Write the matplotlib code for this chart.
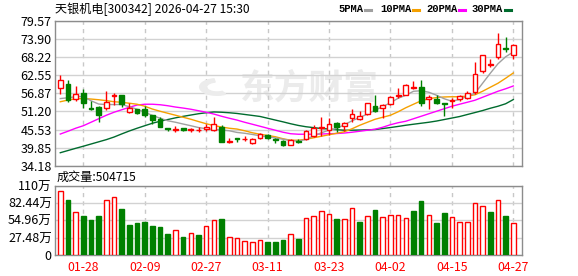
import numpy as np
import matplotlib
matplotlib.use('Agg')
import matplotlib.pyplot as plt
from matplotlib.lines import Line2D
from matplotlib.patches import Wedge

plt.rcParams['font.family'] = ['Noto Sans CJK SC', 'DejaVu Sans']

# header
stock_name = '天银机电'
stock_code = '300342'
stamp = '2026-04-27 15:30'

# daily candles (60 sessions)
opens = [58.4, 59.9, 55.25, 57.1, 52.3, 52.6, 52.4, 56.0, 56.3, 51.0,
         51.9, 51.9, 50.0, 48.7, 45.9, 45.5, 45.9, 45.4, 45.4, 45.6,
         45.4, 46.3, 41.5, 42.9, 42.5, 41.4, 42.9, 43.8, 42.7, 41.9,
         40.8, 42.0, 42.4, 43.6, 46.0, 45.3, 47.6, 46.5, 49.0, 48.9,
         50.5, 52.8, 52.3, 53.4, 56.1, 56.5, 58.6, 58.9, 55.0, 55.0,
         53.8, 54.5, 55.0, 55.4, 57.3, 63.8, 65.8, 68.3, 71.0, 69.0]
closes = [61.2, 54.9, 56.6, 53.7, 52.0, 50.0, 54.2, 56.5, 53.4, 52.2,
          50.7, 50.2, 48.4, 46.3, 45.6, 45.7, 45.3, 45.6, 45.5, 46.3,
          47.3, 41.6, 41.8, 42.6, 42.6, 42.7, 44.0, 42.9, 42.3, 40.6,
          42.2, 41.7, 45.1, 46.0, 46.2, 47.2, 46.3, 47.5, 50.5, 49.9,
          53.7, 51.2, 53.2, 55.8, 56.4, 59.6, 58.8, 54.0, 55.8, 53.7,
          53.5, 54.7, 56.0, 57.0, 63.1, 68.8, 66.0, 72.2, 70.8, 72.0]
highs = [62.55, 61.0, 59.1, 58.1, 54.5, 52.8, 57.5, 57.0, 56.3, 53.7,
         52.1, 52.8, 50.2, 49.5, 46.1, 46.7, 46.0, 46.1, 46.2, 47.4,
         49.5, 46.8, 42.9, 43.0, 43.6, 42.8, 44.3, 44.2, 42.9, 42.2,
         42.4, 42.4, 45.4, 47.0, 49.4, 49.2, 47.9, 47.9, 52.1, 51.3,
         53.9, 56.3, 53.4, 56.0, 58.4, 59.9, 60.7, 61.0, 56.3, 56.3,
         54.0, 55.4, 56.3, 57.6, 66.7, 69.0, 67.8, 75.9, 74.6, 72.2]
lows = [56.6, 54.2, 54.5, 52.4, 51.6, 47.9, 51.6, 53.1, 52.6, 50.7,
        50.5, 49.3, 47.4, 46.2, 45.2, 44.8, 45.1, 44.9, 44.9, 45.0,
        45.0, 41.5, 41.3, 41.6, 42.0, 41.0, 42.6, 42.5, 41.2, 40.3,
        40.6, 41.4, 42.2, 43.1, 43.5, 43.7, 44.8, 45.0, 47.9, 48.5,
        50.2, 51.0, 49.2, 53.1, 55.4, 56.3, 58.2, 52.9, 52.1, 53.4,
        49.8, 52.3, 54.6, 55.0, 56.8, 63.4, 65.2, 67.5, 69.9, 67.8]

# volume in 万
volumes = [101.5, 87.8, 68.2, 61.9, 55.5, 61.9, 87.3, 91.5, 73.0, 47.6,
           50.8, 52.4, 46.0, 44.4, 33.3, 39.7, 28.6, 34.9, 31.7, 46.0,
           55.5, 57.1, 28.6, 27.0, 22.2, 20.6, 23.8, 20.6, 20.6, 23.8,
           33.3, 25.4, 58.2, 61.9, 69.8, 65.0, 57.1, 56.6, 74.6, 52.4,
           61.9, 71.4, 59.8, 63.5, 63.5, 58.2, 69.8, 85.7, 63.5, 50.8,
           66.6, 59.8, 52.4, 52.4, 82.5, 77.7, 68.2, 87.3, 61.9, 50.4715]

# moving averages as drawn
ma5 = [55.24, 55.49, 55.81, 55.90, 54.55, 53.52, 53.36, 53.36, 53.36, 52.67,
       51.89, 50.95, 49.95, 49.07, 48.28, 47.81, 47.25, 46.72, 46.15, 45.77,
       45.52, 45.37, 45.15, 44.62, 44.36, 43.99, 43.58, 43.27, 42.89, 42.48,
       42.08, 41.86, 42.42, 43.49, 44.52, 45.31, 45.87, 47.03, 48.28, 49.32,
       50.38, 51.57, 52.73, 53.93, 55.34, 56.28, 57.53, 57.69, 57.22, 56.28,
       55.18, 54.40, 54.96, 55.96, 56.90, 60.04, 63.17, 66.15, 68.35, 69.85]
ma10 = [54.24, 54.77, 55.15, 55.24, 55.09, 54.87, 54.59, 54.24, 54.08, 53.77,
        53.46, 52.83, 51.95, 51.26, 50.63, 50.01, 49.38, 48.75, 48.03, 47.34,
        46.78, 46.31, 45.93, 45.68, 45.15, 44.52, 44.05, 43.67, 43.27, 42.64,
        42.17, 42.17, 42.48, 42.95, 43.42, 43.89, 44.36, 44.83, 45.77, 46.87,
        47.81, 48.75, 49.38, 50.01, 51.10, 52.36, 53.46, 54.55, 55.18, 55.56,
        55.74, 55.81, 55.81, 56.03, 56.43, 57.53, 58.79, 60.04, 61.61, 63.27]
ma20 = [44.11, 44.99, 45.93, 46.72, 47.81, 48.91, 50.01, 50.95, 51.73, 52.51,
        53.21, 53.46, 53.46, 53.30, 52.99, 52.58, 52.26, 51.89, 51.42, 50.95,
        50.38, 49.69, 49.07, 48.50, 47.81, 47.19, 46.56, 45.93, 45.31, 44.68,
        44.21, 44.05, 44.05, 44.05, 44.11, 44.21, 44.27, 44.43, 44.68, 44.99,
        45.31, 45.62, 46.25, 47.03, 47.66, 48.13, 48.91, 49.69, 50.48, 51.26,
        52.05, 52.83, 53.46, 54.08, 54.71, 55.65, 56.59, 57.53, 58.31, 59.19]
ma30 = [38.25, 38.94, 39.63, 40.29, 40.98, 41.67, 42.36, 43.17, 44.15, 45.08,
        45.93, 46.72, 47.50, 48.13, 48.66, 49.19, 49.66, 50.07, 50.48, 50.79,
        51.04, 50.95, 50.79, 50.57, 50.26, 49.95, 49.63, 49.07, 48.50, 47.94,
        47.34, 46.81, 46.40, 46.12, 45.84, 45.68, 45.46, 45.31, 45.31, 45.37,
        45.43, 45.52, 45.84, 46.15, 46.50, 46.87, 47.19, 47.50, 47.81, 48.19,
        48.66, 49.13, 49.60, 50.23, 50.85, 51.48, 52.20, 52.83, 53.61, 54.93]

date_labels = ['01-28', '02-09', '02-27', '03-11', '03-23', '04-02', '04-15', '04-27']
date_pos = [3, 11, 19, 27, 35, 43, 51, 59]
price_ticks = [34.18, 39.85, 45.53, 51.20, 56.87, 62.55, 68.22, 73.90, 79.57]
vol_ticks = [0, 27.48, 54.96, 82.44, 109.92]
vol_tick_labels = ['0', '27.48万', '54.96万', '82.44万', '110万']

RED = '#ff0000'
GREEN = '#008000'
ma_colors = ['#a0a0a0', '#f5a000', '#ff00ff', '#006b2e']
W, H = 578, 276


def fx(px):
    return px / W


def fy(py):
    return 1 - py / H


opens = np.array(opens)
closes = np.array(closes)
highs = np.array(highs)
lows = np.array(lows)
volumes = np.array(volumes)
x = np.arange(len(closes))

fig = plt.figure(figsize=(W / 100, H / 100), dpi=100)
ax = fig.add_axes([fx(55.3), fy(165.7), fx(522.3 - 55.3), (165.7 - 21) / H])
axv = fig.add_axes([fx(55.3), fy(255), fx(522.3 - 55.3), (255 - 185.7) / H])

# watermark (logo swirl + name)
fig.add_artist(Wedge((fx(217), fy(87)), 0.03, 100, 300, width=0.012,
                     color='#ececec', transform=fig.transFigure, zorder=0.5))
ax.text(0.545, 0.54, '东方财富', transform=ax.transAxes, ha='center', va='center',
        fontsize=25, fontweight='bold', color='#ebebeb', zorder=0.5)

# moving averages
for ma, c in zip([ma30, ma20, ma10, ma5], ma_colors[::-1]):
    ax.plot(x, ma, color=c, lw=1.0, zorder=2)

# candles
up = closes >= opens
cc = np.where(up, RED, GREEN)
face = np.where(up, 'white', GREEN)
ax.vlines(x, lows, highs, colors=cc, lw=1.0, zorder=3)
body_lo = np.minimum(opens, closes)
body_h = np.maximum(np.abs(closes - opens), 0.12)
ax.bar(x, body_h, bottom=body_lo, width=0.62, color=face, edgecolor=cc, lw=1.0, zorder=4)

# volume bars, colour by change vs previous close
prev = np.concatenate([[opens[0]], closes[:-1]])
vup = closes >= prev
vc = np.where(vup, RED, GREEN)
vface = np.where(vup, 'white', GREEN)
axv.bar(x, volumes, width=0.6, color=vface, edgecolor=vc, lw=1.0, zorder=3)

for a in (ax, axv):
    a.set_xlim(-0.65, 60.17)
    a.set_xticks(date_pos)
    a.grid(axis='x', color='#c8c8c8', lw=1.0, ls=(0, (3, 3)))
    a.grid(axis='y', color='#d2d2d2', lw=1.0, ls='-')
    a.set_axisbelow(True)
    for s in a.spines.values():
        s.set_color('#8c8c8c')
        s.set_linewidth(1.0)
    a.tick_params(length=0, labelsize=9, pad=2.5)

ax.set_ylim(34.18, 79.57)
ax.set_yticks(price_ticks)
ax.set_yticklabels(['%.2f' % t for t in price_ticks])
ax.set_xticklabels([])

axv.set_ylim(0, 109.92)
axv.set_yticks(vol_ticks)
axv.set_yticklabels(vol_tick_labels)
axv.set_xticklabels(date_labels, color=RED, fontsize=8.8)
axv.tick_params(axis='x', pad=4)

# header texts
fig.text(fx(55), fy(9.5), '%s[%s] %s' % (stock_name, stock_code, stamp),
         fontsize=8.7, va='center', ha='left')
fig.text(fx(57), fy(177.5), '成交量:%d' % round(volumes[-1] * 10000),
         fontsize=8.7, va='center', ha='left')

# legend
legend_names = ['5PMA', '10PMA', '20PMA', '30PMA']
legend_x = [338.3, 380.7, 426, 471.7]
mark_x = [365, 413, 459.3, 505]
for name, lx, mx, c in zip(legend_names, legend_x, mark_x, ma_colors):
    fig.text(fx(lx), fy(9.5), name, fontsize=7.6, va='center', ha='left',
             family=['Liberation Mono', 'DejaVu Sans'], fontweight='bold')
    fig.add_artist(Line2D([fx(mx), fx(mx + 6)], [fy(10), fy(10)], color=c, lw=2.2,
                          transform=fig.transFigure))

fig.savefig('out.png', dpi=100)
